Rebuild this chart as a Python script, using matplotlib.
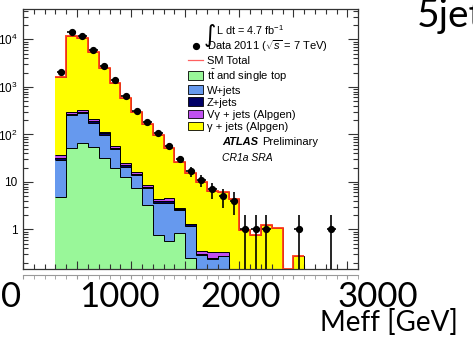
import numpy as np
import matplotlib
matplotlib.use("Agg")
import matplotlib.pyplot as plt
from matplotlib.lines import Line2D
from matplotlib.patches import Patch
from matplotlib.ticker import (FixedLocator, FixedFormatter, MultipleLocator,
                               LogLocator, NullFormatter)

plt.rcParams['font.family'] = ['Liberation Sans', 'DejaVu Sans']
plt.rcParams['mathtext.fontset'] = 'custom'
plt.rcParams['mathtext.rm'] = 'Liberation Sans'
plt.rcParams['mathtext.it'] = 'Liberation Sans:italic'
plt.rcParams['mathtext.bf'] = 'Liberation Sans:bold'

# Meff bins, 100 GeV wide from 300 to 3000 GeV
edges = np.arange(300, 3001, 100)

data = np.array([2040, 14000, 11800, 6000, 2800, 1400, 630, 312, 181, 109,
                 57, 30, 17, 11, 7, 5, 4, 1, 1, 1, 0, 0, 1, 0, 0, 1, 0])

ttbar = np.array([4.8, 53, 65, 55, 32, 19.4, 12.5, 7.5, 3.2, 0.78, 0.57, 0.85,
                  0.25] + [0] * 14)
wjets = np.array([24, 205, 215, 117, 66, 29.6, 8.5, 6.5, 4.3, 2.9, 3.0, 1.75,
                  0.95, 0.29, 0.24, 0.27] + [0] * 11)
zjets = np.array([3, 17, 20, 18, 8, 4, 2, 0.7, 0.5, 0.3, 0.4, 0.15, 0.08,
                  0.01, 0.01, 0.01] + [0] * 11)
vgamma = np.array([5, 20, 30, 19, 8, 4, 2, 1.3, 0.5, 0.5, 0.7, 0.1, 0.04,
                   0.05, 0.08, 0.06] + [0] * 11)
gamma = np.array([1563, 11705, 10270, 5291, 2436, 1173, 555, 279, 157, 95, 47,
                  24, 14.2, 9.6, 6.0, 5.9, 4.3, 0.97, 0.76, 1.25, 1.06, 0,
                  0.27, 0, 0, 0, 0])

labels = [r'$\mathrm{t\bar{t}}$ and single top', 'W+jets', 'Z+jets',
          'V\u03b3 + jets (Alpgen)', '\u03b3 + jets (Alpgen)']
colors = ['#99f799', '#6699ee', '#000066', '#c050f0', '#ffff00']

W, H = 473, 337
fig = plt.figure(figsize=(W / 100, H / 100), dpi=100)
ax = fig.add_axes([23 / W, 1 - 269.3 / H, 335.3 / W, 260 / H])

ymin, ymax = 0.145, 4.3e4
floor = 1e-3

# stacked backgrounds
stack = np.cumsum(np.vstack([ttbar, wjets, zjets, vgamma, gamma]), axis=0)
below = np.full(len(data), floor)
for top, c in zip(stack, colors):
    t = np.clip(top, floor, None)
    ax.stairs(t, edges, baseline=below, fill=True, color=c, lw=0, zorder=1)
    ax.stairs(t, edges, baseline=None, color='black', lw=0.7, zorder=2)
    below = t

# SM total outline, up to the last filled bin
sm = stack[-1]
last = np.nonzero(sm)[0].max()
ax.stairs(np.clip(sm[:last + 1], ymin * 1.01, None), edges[:last + 2],
          baseline=None, color='#ff3a1a', lw=1.3, zorder=4)

# data with sqrt(N) errors
centers = 0.5 * (edges[:-1] + edges[1:])
m = data > 0
ax.errorbar(centers[m], data[m], yerr=np.sqrt(data[m]), xerr=40, fmt='o',
            color='black', ms=4.2, elinewidth=1.2, capsize=0, zorder=5)

ax.set_xlim(0, 3100)
ax.set_yscale('log')
ax.set_ylim(ymin, ymax)
ax.xaxis.set_major_locator(MultipleLocator(500))
ax.xaxis.set_minor_locator(MultipleLocator(100))
ax.yaxis.set_major_locator(FixedLocator([1, 10, 100, 1e3, 1e4]))
ax.yaxis.set_major_formatter(FixedFormatter(['1', '10', '$10^{2}$', '$10^{3}$', '$10^{4}$']))
ax.yaxis.set_minor_locator(LogLocator(subs=np.arange(2, 10)))
ax.yaxis.set_minor_formatter(NullFormatter())
ax.tick_params(which='both', direction='in', top=True, right=True,
               color='#333333', width=0.8)
ax.tick_params(axis='x', which='major', length=6, labelbottom=False)
ax.tick_params(axis='x', which='minor', length=3.5)
ax.tick_params(axis='y', which='major', length=7, labelsize=8.5, pad=4)
ax.tick_params(axis='y', which='minor', length=3.5)
for s in ax.spines.values():
    s.set_color('#333333')
    s.set_linewidth(0.9)

# legend
handles = [Line2D([], [], marker='o', ls='none', color='black', ms=4.2),
           Line2D([], [], color='#ff6060', lw=0.9)]
handles += [Patch(facecolor=c, edgecolor='black', lw=0.6) for c in colors]
names = [r'Data 2011 ($\sqrt{s}$ = 7 TeV)', 'SM Total'] + labels
ax.legend(handles, names, loc='upper left', bbox_to_anchor=(188 / W, 1 - 38 / H),
          bbox_transform=fig.transFigure, frameon=False, fontsize=8,
          handlelength=1.35, handleheight=0.85, handletextpad=0.35,
          labelspacing=0.16, borderpad=0, borderaxespad=0)

fig.text(204 / W, 1 - 42 / H, '\u222b', family='DejaVu Sans', fontsize=17,
         va='baseline')
fig.text(216 / W, 1 - 35 / H, r'L dt = 4.7 fb$^{-1}$', fontsize=7.8, va='baseline')
fig.text(222 / W, 1 - 145 / H, 'ATLAS', fontsize=8, weight='bold',
         style='italic', va='baseline')
fig.text(262 / W, 1 - 145 / H, 'Preliminary', fontsize=8, va='baseline')
fig.text(222 / W, 1 - 161 / H, 'CR1a SRA', fontsize=7.5, style='italic',
         va='baseline')

# lower axis line below the frame
axb = fig.add_axes([23 / W, 1 - 275 / H, 335.3 / W, 0.0001])
axb.set_xlim(0, 3100)
axb.patch.set_visible(False)
for k in ['left', 'right', 'bottom']:
    axb.spines[k].set_visible(False)
axb.spines['top'].set_color('#999999')
axb.xaxis.set_major_locator(MultipleLocator(500))
axb.xaxis.set_minor_locator(MultipleLocator(100))
axb.tick_params(which='both', direction='in', top=True, bottom=False,
                labelbottom=False, left=False, labelleft=False,
                color='#999999', length=3)
axb.set_yticks([])

# big axis labels
big = dict(family='Lato', fontsize=25, va='baseline', ha='center')
for x, t in [(11, '0'), (119.5, '1000'), (241, '2000'), (377.5, '3000')]:
    fig.text(x / W, 1 - 307 / H, t, **big)
fig.text(320 / W, 1 - 331 / H, 'Meff [GeV]', family='Lato', fontsize=20,
         va='baseline')
fig.text(417 / W, 1 - 27 / H, '5jets', family='Lato', fontsize=28,
         va='baseline')

fig.savefig('out.png', dpi=100)
